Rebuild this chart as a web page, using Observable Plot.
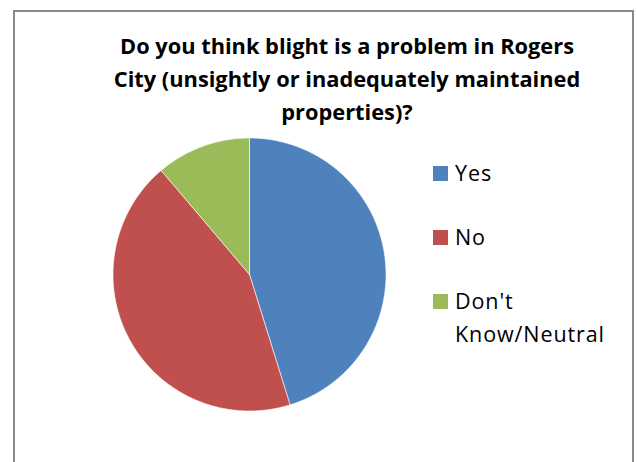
<!DOCTYPE html>
<html>
<head>
<meta charset="utf-8">
<script src="https://cdn.jsdelivr.net/npm/d3@7"></script>
<script src="https://cdn.jsdelivr.net/npm/@observablehq/plot@0.6"></script>
<style>
  html, body { margin: 0; padding: 0; background: #fff; }
  #wrap { position: relative; width: 637px; height: 462px; overflow: hidden; background: #fff; }
  #frame { position: absolute; left: 13px; top: 10px; width: 617px; height: 470px;
           border-left: 2px solid #898989; border-top: 2px solid #898989; border-right: 2px solid #898989; }
  #chart { position: absolute; left: 0; top: 0; }
  #title { position: absolute; left: 47px; top: 29px; width: 600px; text-align: center;
           font-family: "Open Sans", sans-serif; font-weight: bold; font-size: 21.8px; line-height: 33px; color: #000; }
  .item { position: absolute; left: 433px; width: 200px; font-family: "Open Sans", sans-serif;
          font-size: 21.5px; letter-spacing: 0.9px; line-height: 33px; color: #000; }
  .sw { position: absolute; left: 0; width: 15px; height: 15px; }
  .lab { position: absolute; left: 22px; width: 178px; }
</style>
</head>
<body>
<div id="wrap">
  <div id="frame"></div>
  <div id="chart"></div>
  <div id="title">Do you think blight is a problem in Rogers<br>City (unsightly or inadequately maintained<br>properties)?</div>
  <div id="legend"></div>
</div>
<script>
const categories = ["Yes", "No", "Don't Know/Neutral"];
const values = [45.2, 43.6, 11.2];
const colors = ["#4F81BD", "#C0504D", "#9BBB59"];

const cx = 249, cy = 274, R = 136.5;

const arcs = d3.pie().sort(null).value(d => d)(values);
const pts = [];
arcs.forEach((a, i) => {
  const cat = categories[i];
  pts.push({cat, x: 0, y: 0});
  const n = Math.max(4, Math.ceil((a.endAngle - a.startAngle) / (Math.PI / 360)));
  for (let k = 0; k <= n; k++) {
    const t = a.startAngle + (a.endAngle - a.startAngle) * k / n;
    pts.push({cat, x: Math.sin(t), y: Math.cos(t)});
  }
  pts.push({cat, x: 0, y: 0});
});

const chart = Plot.plot({
  width: 637,
  height: 462,
  margin: 0,
  style: {background: "transparent"},
  x: {domain: [-1, 1], range: [cx - R, cx + R], axis: null},
  y: {domain: [-1, 1], range: [cy + R, cy - R], axis: null},
  color: {domain: categories, range: colors},
  marks: [
    Plot.line(pts, {x: "x", y: "y", z: "cat", fill: "cat", stroke: "white", strokeWidth: 0.75, strokeOpacity: 0.8})
  ]
});
document.getElementById("chart").appendChild(chart);

const color = chart.scale("color");
const legend = document.getElementById("legend");
const lineTops = [156, 220, 284];
categories.forEach((c, i) => {
  const item = document.createElement("div");
  item.className = "item";
  item.style.top = lineTops[i] + "px";
  const sw = document.createElement("div");
  sw.className = "sw";
  sw.style.top = "10px";
  sw.style.background = color.apply(c);
  const lab = document.createElement("div");
  lab.className = "lab";
  lab.style.top = "0px";
  lab.textContent = c;
  item.appendChild(sw);
  item.appendChild(lab);
  legend.appendChild(item);
});
</script>
</body>
</html>
